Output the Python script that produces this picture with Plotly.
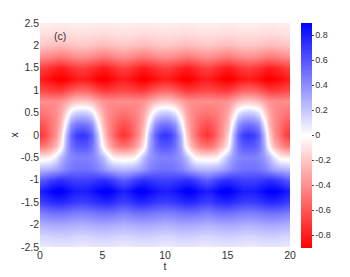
import plotly.graph_objects as go

t_vals = [0.0, 0.417, 0.833, 1.25, 1.667, 2.083, 2.5, 2.917, 3.333, 3.75, 4.167, 4.583, 5.0,
          5.417, 5.833, 6.25, 6.667, 7.083, 7.5, 7.917, 8.333, 8.75, 9.167, 9.583, 10.0,
          10.417, 10.833, 11.25, 11.667, 12.083, 12.5, 12.917, 13.333, 13.75, 14.167, 14.583,
          15.0, 15.417, 15.833, 16.25, 16.667, 17.083, 17.5, 17.917, 18.333, 18.75, 19.167,
          19.583, 20.0]
x_vals = [-2.5, -2.25, -2.0, -1.75, -1.5, -1.25, -1.0, -0.75, -0.5, -0.25, 0.0,
          0.25, 0.5, 0.75, 1.0, 1.25, 1.5, 1.75, 2.0, 2.25, 2.5]

# field values, one row per x value (bottom to top), 49 values across t
z_rows = [
    # x = -2.5
    [.07,.07,.08,.08,.08,.08,.08,.07,.07,.07,.08,.08,.08,.08,.08,.07,
     .07,.07,.08,.08,.08,.08,.08,.07,.07,.07,.08,.08,.08,.08,.08,.07,
     .07,.07,.08,.08,.08,.08,.08,.07,.07,.07,.08,.08,.08,.08,.08,.07, .07],
    # x = -2.25
    [.15,.15,.16,.17,.17,.17,.16,.15,.15,.15,.16,.17,.17,.17,.16,.15,
     .15,.15,.16,.17,.17,.17,.16,.15,.15,.15,.16,.17,.17,.17,.16,.15,
     .15,.15,.16,.17,.17,.17,.16,.15,.15,.15,.16,.17,.17,.17,.16,.15, .15],
    # x = -2.0
    [.27,.28,.29,.30,.30,.30,.29,.28,.27,.28,.29,.30,.30,.30,.29,.28,
     .27,.28,.29,.30,.30,.30,.29,.28,.27,.28,.29,.30,.30,.30,.29,.28,
     .27,.28,.29,.30,.30,.30,.29,.28,.27,.28,.29,.30,.30,.30,.29,.28, .27],
    # x = -1.75
    [.45,.47,.49,.50,.50,.49,.47,.46,.45,.46,.47,.49,.50,.50,.49,.47,
     .45,.47,.49,.50,.50,.49,.47,.46,.45,.46,.47,.49,.50,.50,.49,.47,
     .45,.47,.49,.50,.50,.49,.47,.46,.45,.46,.47,.49,.50,.50,.49,.47, .45],
    # x = -1.5
    [.68,.70,.74,.76,.76,.74,.71,.69,.68,.69,.71,.74,.76,.76,.74,.70,
     .68,.70,.74,.76,.76,.74,.71,.69,.68,.69,.71,.74,.76,.76,.74,.70,
     .68,.70,.74,.76,.76,.74,.71,.69,.68,.69,.71,.74,.76,.76,.74,.70, .68],
    # x = -1.25
    [.80,.83,.88,.92,.92,.88,.84,.81,.80,.81,.84,.88,.92,.92,.88,.83,
     .80,.83,.88,.92,.92,.88,.84,.81,.80,.81,.84,.88,.92,.92,.88,.83,
     .80,.83,.88,.92,.92,.88,.84,.81,.80,.81,.84,.88,.92,.92,.88,.83, .80],
    # x = -1.0
    [.58,.62,.68,.72,.74,.72,.70,.68,.68,.68,.70,.72,.74,.72,.68,.62,
     .58,.62,.68,.72,.74,.72,.70,.68,.68,.68,.70,.72,.74,.72,.68,.62,
     .58,.62,.68,.72,.74,.72,.70,.68,.68,.68,.70,.72,.74,.72,.68,.62, .58],
    # x = -0.75
    [.25,.26,.28,.32,.38,.44,.48,.50,.50,.50,.48,.44,.38,.32,.28,.26,
     .25,.26,.28,.32,.38,.44,.48,.50,.50,.50,.48,.44,.38,.32,.28,.26,
     .25,.26,.28,.32,.38,.44,.48,.50,.50,.50,.48,.44,.38,.32,.28,.26, .25],
    # x = -0.5
    [-.08,-.07,-.05,.08,.25,.36,.42,.45,.45,.45,.42,.36,.25,.08,-.05,-.07,
     -.08,-.07,-.05,.08,.25,.36,.42,.45,.45,.45,.42,.36,.25,.08,-.05,-.07,
     -.08,-.07,-.05,.08,.25,.36,.42,.45,.45,.45,.42,.36,.25,.08,-.05,-.07, -.08],
    # x = -0.25
    [-.50,-.47,-.38,-.25,-.05,.30,.50,.58,.60,.58,.50,.30,-.05,-.25,-.38,-.47,
     -.50,-.47,-.38,-.25,-.05,.30,.50,.58,.60,.58,.50,.30,-.05,-.25,-.38,-.47,
     -.50,-.47,-.38,-.25,-.05,.30,.50,.58,.60,.58,.50,.30,-.05,-.25,-.38,-.47, -.50],
    # x = 0
    [-.72,-.65,-.52,-.38,-.15,.25,.55,.68,.72,.68,.55,.25,-.15,-.38,-.52,-.65,
     -.72,-.65,-.52,-.38,-.15,.25,.55,.68,.72,.68,.55,.25,-.15,-.38,-.52,-.65,
     -.72,-.65,-.52,-.38,-.15,.25,.55,.68,.72,.68,.55,.25,-.15,-.38,-.52,-.65, -.72],
    # x = 0.25
    [-.62,-.58,-.50,-.40,-.25,.08,.38,.47,.50,.47,.38,.08,-.25,-.40,-.50,-.58,
     -.62,-.58,-.50,-.40,-.25,.08,.38,.47,.50,.47,.38,.08,-.25,-.40,-.50,-.58,
     -.62,-.58,-.50,-.40,-.25,.08,.38,.47,.50,.47,.38,.08,-.25,-.40,-.50,-.58, -.62],
    # x = 0.5
    [-.50,-.48,-.45,-.40,-.30,-.12,.10,.18,.20,.18,.10,-.12,-.30,-.40,-.45,-.48,
     -.50,-.48,-.45,-.40,-.30,-.12,.10,.18,.20,.18,.10,-.12,-.30,-.40,-.45,-.48,
     -.50,-.48,-.45,-.40,-.30,-.12,.10,.18,.20,.18,.10,-.12,-.30,-.40,-.45,-.48, -.50],
    # x = 0.75
    [-.40,-.40,-.41,-.40,-.38,-.32,-.25,-.21,-.20,-.21,-.25,-.32,-.38,-.40,-.41,-.40,
     -.40,-.40,-.41,-.40,-.38,-.32,-.25,-.21,-.20,-.21,-.25,-.32,-.38,-.40,-.41,-.40,
     -.40,-.40,-.41,-.40,-.38,-.32,-.25,-.21,-.20,-.21,-.25,-.32,-.38,-.40,-.41,-.40, -.40],
    # x = 1.0
    [-.65,-.66,-.68,-.70,-.70,-.65,-.60,-.56,-.55,-.56,-.60,-.65,-.70,-.70,-.68,-.66,
     -.65,-.66,-.68,-.70,-.70,-.65,-.60,-.56,-.55,-.56,-.60,-.65,-.70,-.70,-.68,-.66,
     -.65,-.66,-.68,-.70,-.70,-.65,-.60,-.56,-.55,-.56,-.60,-.65,-.70,-.70,-.68,-.66, -.65],
    # x = 1.25
    [-.80,-.82,-.86,-.90,-.92,-.90,-.85,-.82,-.80,-.82,-.85,-.90,-.92,-.90,-.86,-.82,
     -.80,-.82,-.86,-.90,-.92,-.90,-.85,-.82,-.80,-.82,-.85,-.90,-.92,-.90,-.86,-.82,
     -.80,-.82,-.86,-.90,-.92,-.90,-.85,-.82,-.80,-.82,-.85,-.90,-.92,-.90,-.86,-.82, -.80],
    # x = 1.5
    [-.68,-.70,-.74,-.78,-.80,-.77,-.73,-.70,-.68,-.70,-.73,-.77,-.80,-.78,-.74,-.70,
     -.68,-.70,-.74,-.78,-.80,-.77,-.73,-.70,-.68,-.70,-.73,-.77,-.80,-.78,-.74,-.70,
     -.68,-.70,-.74,-.78,-.80,-.77,-.73,-.70,-.68,-.70,-.73,-.77,-.80,-.78,-.74,-.70, -.68],
    # x = 1.75
    [-.40,-.42,-.44,-.47,-.48,-.46,-.43,-.41,-.40,-.41,-.43,-.46,-.48,-.47,-.44,-.42,
     -.40,-.42,-.44,-.47,-.48,-.46,-.43,-.41,-.40,-.41,-.43,-.46,-.48,-.47,-.44,-.42,
     -.40,-.42,-.44,-.47,-.48,-.46,-.43,-.41,-.40,-.41,-.43,-.46,-.48,-.47,-.44,-.42, -.40],
    # x = 2.0
    [-.20,-.21,-.22,-.23,-.24,-.23,-.21,-.20,-.20,-.20,-.21,-.23,-.24,-.23,-.22,-.21,
     -.20,-.21,-.22,-.23,-.24,-.23,-.21,-.20,-.20,-.20,-.21,-.23,-.24,-.23,-.22,-.21,
     -.20,-.21,-.22,-.23,-.24,-.23,-.21,-.20,-.20,-.20,-.21,-.23,-.24,-.23,-.22,-.21, -.20],
    # x = 2.25
    [-.11,-.11,-.12,-.12,-.13,-.12,-.12,-.11,-.11,-.11,-.12,-.12,-.13,-.12,-.12,-.11,
     -.11,-.11,-.12,-.12,-.13,-.12,-.12,-.11,-.11,-.11,-.12,-.12,-.13,-.12,-.12,-.11,
     -.11,-.11,-.12,-.12,-.13,-.12,-.12,-.11,-.11,-.11,-.12,-.12,-.13,-.12,-.12,-.11, -.11],
    # x = 2.5
    [-.06,-.06,-.06,-.07,-.07,-.07,-.06,-.06,-.06,-.06,-.06,-.07,-.07,-.07,-.06,-.06,
     -.06,-.06,-.06,-.07,-.07,-.07,-.06,-.06,-.06,-.06,-.06,-.07,-.07,-.07,-.06,-.06,
     -.06,-.06,-.06,-.07,-.07,-.07,-.06,-.06,-.06,-.06,-.06,-.07,-.07,-.07,-.06,-.06, -.06],
]

x_ticks = [0, 5, 10, 15, 20]
y_ticks = [2.5, 2, 1.5, 1, 0.5, 0, -0.5, -1, -1.5, -2, -2.5]
y_ticktext = ["2.5", "2", "1.5", "1", "0.5", "0", "-0.5", "-1", "-1.5", "-2", "-2.5"]
cb_ticks = [0.8, 0.6, 0.4, 0.2, 0, -0.2, -0.4, -0.6, -0.8]
cb_ticktext = ["0.8", "0.6", "0.4", "0.2", "0", "-0.2", "-0.4", "-0.6", "-0.8"]

font_family = "Liberation Sans, Arial, sans-serif"

fig = go.Figure(go.Heatmap(
    x=t_vals, y=x_vals, z=z_rows,
    zmin=-0.9, zmax=0.9, zsmooth="best",
    colorscale=[[0, "#ff0000"], [0.5, "#ffffff"], [1, "#0000ff"]],
    colorbar=dict(
        thickness=11, len=225, lenmode="pixels",
        x=1.044, xanchor="left", xpad=0, y=0.5, yanchor="middle", ypad=0,
        tickvals=cb_ticks, ticktext=cb_ticktext,
        ticks="outside", ticklen=2, tickcolor="#444",
        tickfont=dict(size=9, color="#333", family=font_family),
        outlinewidth=0,
    ),
))

# the page body adds an 8px offset, so margins are reduced by 8px
fig.update_layout(
    width=342, height=269,
    margin=dict(l=32, r=60, t=15, b=30),
    paper_bgcolor="white", plot_bgcolor="white",
    font=dict(family=font_family, size=10.5, color="#333"),
    xaxis=dict(range=[0, 20], tickvals=x_ticks, showgrid=False, zeroline=False,
               automargin=False,
               title=dict(text="t", standoff=2, font=dict(size=10.5)), ticks=""),
    yaxis=dict(range=[-2.5, 2.5], tickvals=y_ticks, ticktext=y_ticktext,
               showgrid=False, zeroline=False, automargin=False,
               title=dict(text="x", standoff=8, font=dict(size=10.5)), ticks=""),
    annotations=[dict(x=1.6, y=2.2, xref="x", yref="y", text="(c)", showarrow=False,
                      font=dict(size=10.5, color="#333", family=font_family))],
)

fig.write_html("out.html")
